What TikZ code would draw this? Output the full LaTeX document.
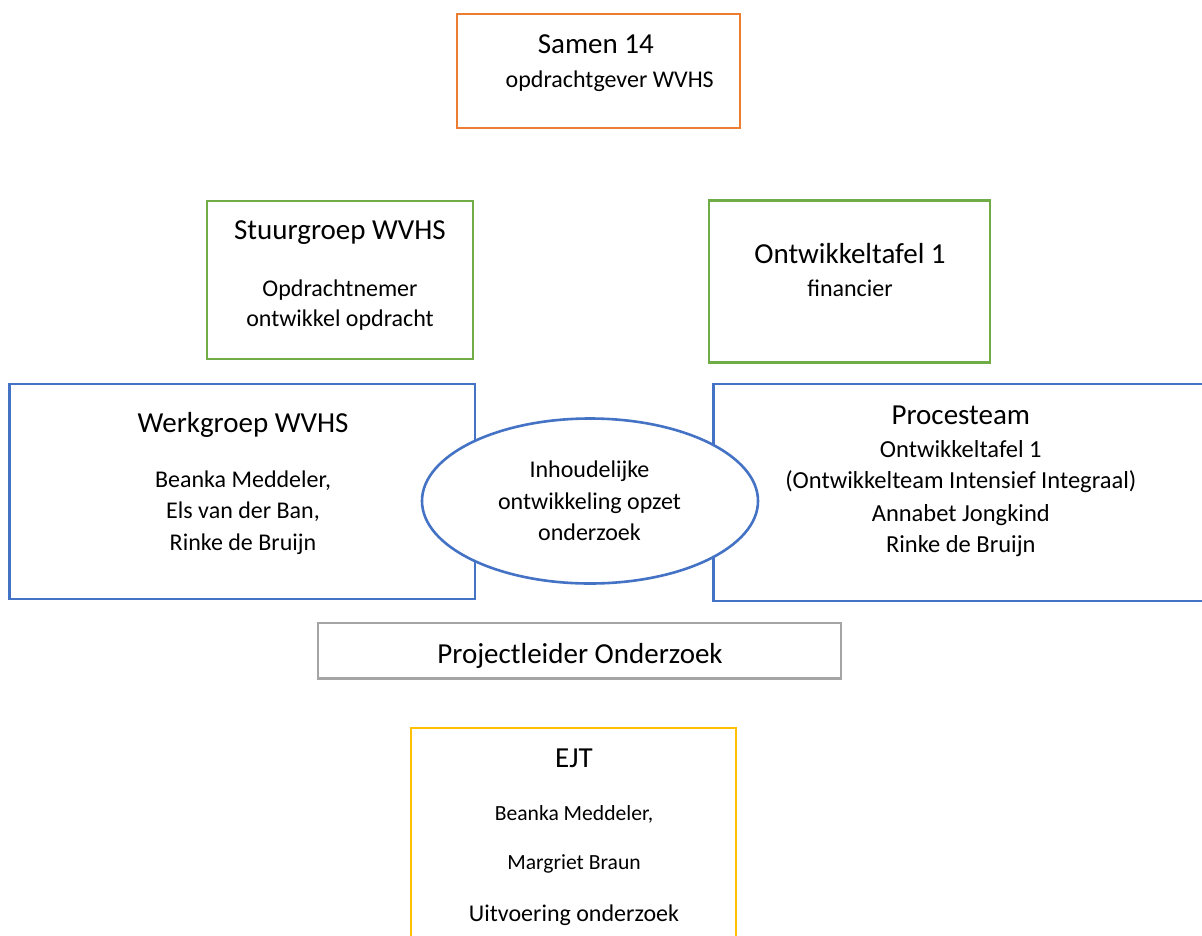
\documentclass[tikz,border=0pt]{standalone}
\usepackage{fontspec}
\setmainfont{Carlito}
\usetikzlibrary{shapes.geometric}
\definecolor{orangeB}{HTML}{ED7D31}
\definecolor{greenB}{HTML}{70AD47}
\definecolor{blueB}{HTML}{4472C4}
\definecolor{grayB}{HTML}{A5A5A5}
\definecolor{yellowB}{HTML}{FFC000}
\tikzset{
  box/.style={draw, line width=2.6pt, rectangle, inner sep=0pt, fill=white},
  ttl/.style={anchor=base, inner sep=0pt, font=\fontsize{29}{34}\selectfont},
  bod/.style={anchor=base, inner sep=0pt, font=\fontsize{24}{28}\selectfont},
  bodl/.style={anchor=base, inner sep=0pt, font=\fontsize{24.5}{28}\selectfont},
  bods/.style={anchor=base, inner sep=0pt, font=\fontsize{21.6}{26}\selectfont},
}
\begin{document}
\begin{tikzpicture}[x=1pt,y=-1pt]
\useasboundingbox (0,0) rectangle (1202,935);
\clip (0,0) rectangle (1202,935);
\fill[white] (0,0) rectangle (1202,935);

% boxes
\node[box, draw=orangeB, minimum width=283pt, minimum height=114pt] (samen) at (598.5,71) {};
\node[box, draw=greenB, minimum width=266pt, minimum height=158pt] (stuur) at (340,280) {};
\node[box, draw=greenB, minimum width=281pt, minimum height=162pt] (ontw) at (849.5,281.7) {};
\node[box, draw=blueB, minimum width=465.7pt, minimum height=215pt] (werk) at (242.3,491.5) {};
\node[box, draw=blueB, minimum width=495pt, minimum height=217pt] (proc) at (960.8,492.5) {};
\node[box, draw=grayB, minimum width=523pt, minimum height=55.5pt] (proj) at (579.5,650.8) {};
\node[box, draw=yellowB, minimum width=325pt, minimum height=232pt] (ejt) at (573.5,844) {};
\node[draw=blueB, line width=2.6pt, fill=white, ellipse, inner sep=0pt, minimum width=336pt, minimum height=165pt] (ell) at (590,501) {};

% texts
\node[ttl] (samenT) at (595.8,53) {Samen 14};
\node[bod] (samenS) at (609.7,87.3) {opdrachtgever WVHS};

\node[ttl] (stuurT) at (340,239) {Stuurgroep WVHS};
\node[bod] (stuurA) at (340,296) {Opdrachtnemer};
\node[bod] (stuurB) at (340,326) {ontwikkel opdracht};

\node[ttl] (ontwT) at (850,263) {Ontwikkeltafel 1};
\node[bod] (ontwA) at (850,296.7) {financier};

\node[ttl] (werkT) at (243,432) {Werkgroep WVHS};
\node[bod] (werkA) at (243,487) {Beanka Meddeler,};
\node[bod] (werkB) at (243,518) {Els van der Ban,};
\node[bod] (werkC) at (243,550) {Rinke de Bruijn};

\node[ttl] (procT) at (960.8,424) {Procesteam};
\node[bodl] (procA) at (960.8,457) {Ontwikkeltafel 1};
\node[bodl] (procB) at (960.8,488.7) {(Ontwikkelteam Intensief Integraal)};
\node[bodl] (procC) at (960.8,521) {Annabet Jongkind};
\node[bodl] (procD) at (960.8,552.7) {Rinke de Bruijn};

\node[bod] (ellA) at (589.5,477) {Inhoudelijke};
\node[bod] (ellB) at (589.5,509) {ontwikkeling opzet};
\node[bod] (ellC) at (589.5,540) {onderzoek};

\node[ttl] (projT) at (580,663) {Projectleider Onderzoek};

\node[ttl] (ejtT) at (574,767) {EJT};
\node[bods] (ejtA) at (574,820) {Beanka Meddeler,};
\node[bods] (ejtB) at (574,869) {Margriet Braun};
\node[bod] (ejtC) at (574,921.7) {Uitvoering onderzoek};
\end{tikzpicture}
\end{document}
